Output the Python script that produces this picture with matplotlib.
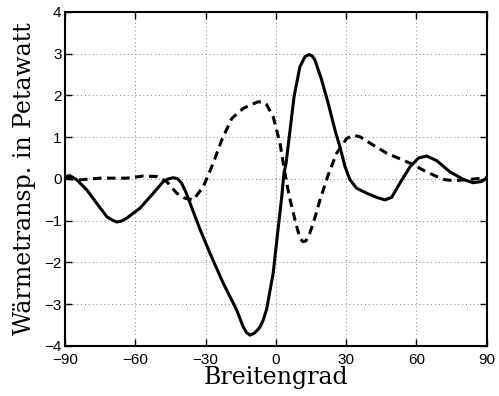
import matplotlib
matplotlib.use("Agg")
import matplotlib.pyplot as plt

# latitude (deg) and heat transport (PW)
lat_solid = [-90, -87.9, -85, -80.7, -76.5, -72.2, -70, -67.9, -66, -63.7,
             -58, -52.3, -48, -46, -43.8, -42, -40.2, -38.5, -36.6, -32.4,
             -28.1, -22.4, -18.1, -16.7, -13.9, -12.5, -11, -9.3, -7.5, -6.7,
             -5.5, -3.9, -1.1, 1.1, 2.5, 3.5, 4.4, 6.1, 7.8, 10.3, 12.5, 14.2,
             15.5, 16.7, 19.6, 22.4, 25.3, 27.4, 29.6, 31.7, 34.5, 38.8, 43.1,
             46.6, 49.5, 53, 57.3, 60.9, 64.4, 68.7, 74.4, 80.1, 84.3, 87.9, 90]
q_solid = [0.06, 0.08, -0.02, -0.26, -0.58, -0.9, -0.98, -1.03, -1.01, -0.94,
           -0.7, -0.34, -0.06, 0.0, 0.03, 0.01, -0.1, -0.3, -0.58, -1.2,
           -1.78, -2.5, -2.98, -3.14, -3.54, -3.68, -3.74, -3.7, -3.6, -3.54,
           -3.4, -3.12, -2.25, -1.14, -0.45, 0.14, 0.38, 1.17, 1.97, 2.69, 2.93,
           2.98, 2.95, 2.85, 2.37, 1.81, 1.17, 0.77, 0.29, -0.02, -0.22, -0.34,
           -0.44, -0.5, -0.44, -0.1, 0.29, 0.5, 0.55, 0.44, 0.17, -0.01, -0.09,
           -0.06, 0.02]

lat_dash = [-90, -83.6, -75, -63.7, -56.6, -50.8, -46.6, -42.3, -38.8, -35.2,
            -30.9, -26.7, -23.1, -18.8, -13.9, -10.5, -7.5, -5.5, -3.9, -1.1,
            1.8, 3.9, 5.8, 8.2, 10.3, 11.6, 12.9, 14.5, 16, 18.9, 22.4, 26,
            30.3, 33.1, 36, 40.2, 47.3, 57.3, 64.4, 71.5, 75.8, 82.9, 90]
q_dash = [0.02, -0.02, 0.02, 0.02, 0.07, 0.06, -0.06, -0.34, -0.46, -0.5,
          -0.18, 0.38, 0.93, 1.45, 1.69, 1.78, 1.85, 1.84, 1.78, 1.49, 0.86,
          0.14, -0.42, -0.98, -1.42, -1.5, -1.48, -1.3, -1.06, -0.5, 0.1, 0.62,
          0.97, 1.05, 1.01, 0.86, 0.62, 0.38, 0.17, -0.01, -0.04, -0.01, 0.03]

x_ticks = [-90, -60, -30, 0, 30, 60, 90]
y_ticks = [-4, -3, -2, -1, 0, 1, 2, 3, 4]


def tick_text(t):
    return "\u2212%d" % -t if t < 0 else str(t)


fig = plt.figure(figsize=(4.99, 3.96), dpi=100)
ax = fig.add_axes([0.1303, 0.1263, 0.8447, 0.8434])

ax.plot(lat_solid, q_solid, color="black", linewidth=2.2,
        solid_joinstyle="round", solid_capstyle="round")
ax.plot(lat_dash, q_dash, color="black", linewidth=2.2,
        linestyle=(0, (2.8, 1.8)))

ax.set_xlim(-90, 90)
ax.set_ylim(-4, 4)
ax.set_xticks(x_ticks)
ax.set_yticks(y_ticks)
ax.set_xticklabels([tick_text(t) for t in x_ticks],
                   family="Liberation Sans", fontsize=11)
ax.set_yticklabels([tick_text(t) for t in y_ticks],
                   family="Liberation Sans", fontsize=11)
ax.tick_params(direction="in", length=5, width=1, top=True, right=True)
ax.tick_params(axis="x", pad=5)
ax.tick_params(axis="y", pad=2.5)
ax.grid(True, linestyle=(0, (1, 3)), color="gray", linewidth=0.7)
for s in ax.spines.values():
    s.set_linewidth(1.5)

ax.set_xlabel("Breitengrad", family="DejaVu Serif", fontsize=17, labelpad=-1)
ax.set_ylabel("Wärmetransp. in Petawatt", family="DejaVu Serif", fontsize=17,
              labelpad=6)

fig.savefig("out.png", dpi=100)
